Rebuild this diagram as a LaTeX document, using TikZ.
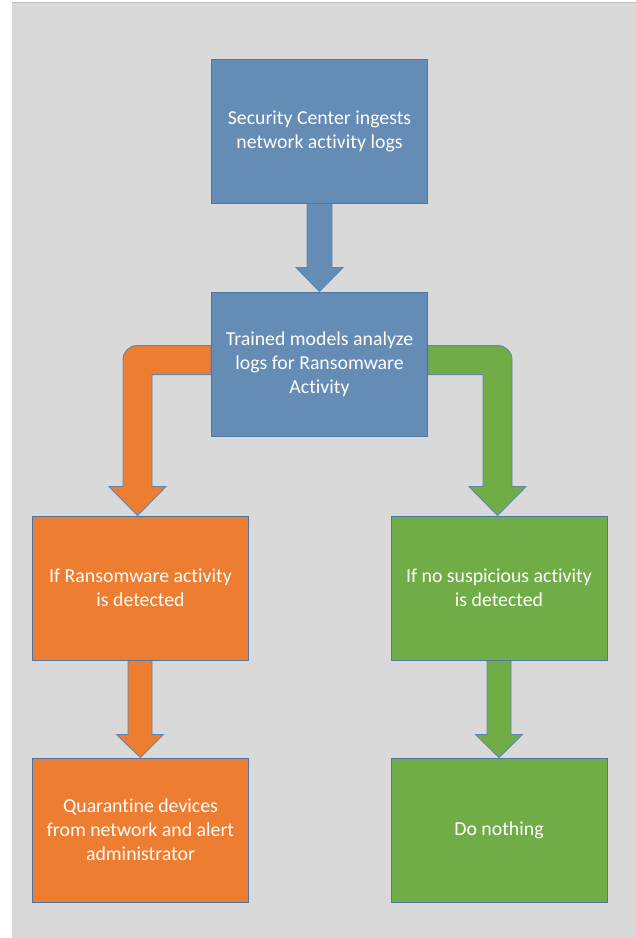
\documentclass[tikz,border=0pt]{standalone}
\usepackage{fontspec}
\setmainfont{Carlito}[Ligatures={NoCommon}]
\usetikzlibrary{calc}
\definecolor{bggray}{HTML}{D9D9D9}
\definecolor{boxblue}{RGB}{100,140,181}
\definecolor{boxorange}{HTML}{ED7D31}
\definecolor{boxgreen}{HTML}{70AD47}
\definecolor{edgeblue}{HTML}{4A77A3}
\definecolor{arrowedge}{HTML}{6285AC}
\pgfdeclarelayer{back}
\pgfdeclarelayer{bg}
\pgfsetlayers{back,bg,main}
\tikzset{
  stepbox/.style={rectangle, draw=edgeblue, line width=0.9pt, minimum width=216pt, minimum height=144pt, inner sep=0pt, text=white, align=center, font=\fontsize{19.8}{24}\selectfont},
  bluebox/.style={stepbox, fill=boxblue},
  orangebox/.style={stepbox, fill=boxorange},
  greenbox/.style={stepbox, fill=boxgreen},
  blockarrow/.style={draw=arrowedge, line width=0.9pt, line join=miter}
}
\begin{document}
\begin{tikzpicture}[x=1pt,y=-1pt]
\useasboundingbox (0,0) rectangle (636,938);
\begin{pgfonlayer}{back}
\fill[white] (0,0) rectangle (636,938);
\fill[bggray] (12,2) rectangle (636,938);
\draw[color=black!25, line width=0.8pt] (12,2) -- (636,2);
\end{pgfonlayer}

\node[bluebox] (b1) at (319.5,131) {Security Center ingests\\network activity logs};
\node[bluebox] (b2) at (319.5,364) {Trained models analyze\\logs for Ransomware\\Activity};
\node[orangebox] (b3) at (140.5,588) {If Ransomware activity\\is detected};
\node[greenbox] (b4) at (499,588) {If no suspicious activity\\is detected};
\node[orangebox] (b5) at (140.5,830) {Quarantine devices\\from network and alert\\administrator};
\node[greenbox] (b6) at (499,830) {Do nothing};

\begin{pgfonlayer}{bg}
% blue arrow b1 -> b2
\draw[blockarrow, fill=boxblue]
  ($(b1.south)+(-12.5,0)$) -- ($(b2.north)+(-12.5,-24)$) -- ($(b2.north)+(-23.5,-24)$)
  -- (b2.north) -- ($(b2.north)+(23.5,-24)$) -- ($(b2.north)+(12.5,-24)$)
  -- ($(b1.south)+(12.5,0)$) -- cycle;
% orange elbow arrow b2 -> b3
\draw[blockarrow, fill=boxorange]
  ($(b2.north west)+(0,54)$) -- ($(b3.north)+(-3.5,-170)$)
  .. controls ($(b3.north)+(-11.2,-170)$) and ($(b3.north)+(-17.5,-163.7)$) .. ($(b3.north)+(-17.5,-156)$)
  -- ($(b3.north)+(-17.5,-29)$) -- ($(b3.north)+(-31.5,-29)$)
  -- ($(b3.north)+(-3,0)$) -- ($(b3.north)+(25.5,-29)$)
  -- ($(b3.north)+(11.5,-29)$) -- ($(b3.north)+(11.5,-141)$)
  -- ($(b2.north west)+(0,83)$) -- cycle;
% green elbow arrow b2 -> b4
\draw[blockarrow, fill=boxgreen]
  ($(b2.north east)+(0,54)$) -- ($(b4.north)+(-1,-170)$)
  .. controls ($(b4.north)+(6.7,-170)$) and ($(b4.north)+(13,-163.7)$) .. ($(b4.north)+(13,-156)$)
  -- ($(b4.north)+(13,-29)$) -- ($(b4.north)+(27,-29)$)
  -- ($(b4.north)+(-1.5,0)$) -- ($(b4.north)+(-30,-29)$)
  -- ($(b4.north)+(-16,-29)$) -- ($(b4.north)+(-16,-141)$)
  -- ($(b2.north east)+(0,83)$) -- cycle;
% orange arrow b3 -> b5
\draw[blockarrow, fill=boxorange]
  ($(b3.south)+(-12.5,0)$) -- ($(b5.north)+(-12.5,-23)$) -- ($(b5.north)+(-24,-23)$)
  -- (b5.north) -- ($(b5.north)+(23,-23)$) -- ($(b5.north)+(11.5,-23)$)
  -- ($(b3.south)+(11.5,0)$) -- cycle;
% green arrow b4 -> b6
\draw[blockarrow, fill=boxgreen]
  ($(b4.south)+(-12,0)$) -- ($(b6.north)+(-12,-23)$) -- ($(b6.north)+(-23.5,-23)$)
  -- (b6.north) -- ($(b6.north)+(23.5,-23)$) -- ($(b6.north)+(12,-23)$)
  -- ($(b4.south)+(12,0)$) -- cycle;
\end{pgfonlayer}
\end{tikzpicture}
\end{document}
